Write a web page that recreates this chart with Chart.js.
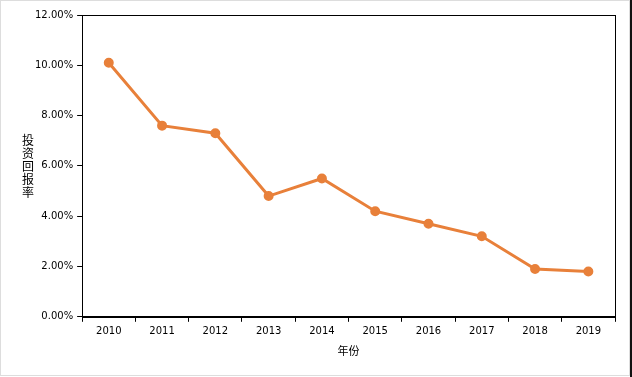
<!DOCTYPE html>
<html lang="zh">
<head>
    <meta charset="UTF-8">
    <title>投资回报率</title>
    <script src="https://cdn.jsdelivr.net/npm/chart.js"></script>
    <style>
        html, body { margin: 0; padding: 0; background: #fff; }
        .frame { position: relative; width: 632px; height: 377px; overflow: hidden; }
        .edge { position: absolute; left: 0; top: 0; width: 628px; height: 374px; border: 1px solid #ddd; pointer-events: none; }
        .strip { position: absolute; right: 0; top: 0; width: 2px; height: 377px; background: #111; }
        #chart { position: absolute; left: 0; top: 0; }
        #ytitle {
            position: absolute; left: 19px; top: 133px; width: 18px;
            font: 12px 'Noto Sans CJK SC', sans-serif; line-height: 13px;
            text-align: center; color: #000;
        }
    </style>
</head>
<body>
<div class="frame">
    <canvas id="chart" width="632" height="377"></canvas>
    <div id="ytitle"></div>
    <div class="edge"></div>
    <div class="strip"></div>
</div>

<script>
  // data
  const years = ["2010", "2011", "2012", "2013", "2014", "2015", "2016", "2017", "2018", "2019"];
  const returnRate = [10.1, 7.6, 7.3, 4.8, 5.5, 4.2, 3.7, 3.2, 1.9, 1.8];
  const yTitle = "投资回报率";
  const xTitle = "年份";

  const lineColor = "#E8803A";
  const tickFont = { family: "'DejaVu Sans', sans-serif", size: 10 };

  // upright, stacked y title (one character per line)
  document.getElementById("ytitle").innerHTML = Array.from(yTitle).join("<br>");

  // box around the plot area
  const framePlugin = {
    id: "framePlugin",
    afterDraw(chart) {
      const { ctx, chartArea: a } = chart;
      ctx.save();
      ctx.strokeStyle = "#000";
      ctx.lineWidth = 1;
      ctx.strokeRect(Math.round(a.left) + 0.5, Math.round(a.top) + 0.5,
                     Math.round(a.right - a.left), Math.round(a.bottom - a.top));
      ctx.restore();
    }
  };

  new Chart(document.getElementById("chart").getContext("2d"), {
    type: "line",
    data: {
      labels: years,
      datasets: [{
        data: returnRate,
        borderColor: lineColor,
        backgroundColor: lineColor,
        borderWidth: 3,
        pointRadius: 3.5,
        pointHoverRadius: 3.5,
        tension: 0
      }]
    },
    options: {
      responsive: false,
      animation: false,
      layout: { padding: { left: 31, top: 15, right: 17, bottom: 16 } },
      plugins: {
        legend: { display: false },
        tooltip: { enabled: false }
      },
      scales: {
        x: {
          offset: true,
          grid: { display: true, drawOnChartArea: false, offset: true, tickLength: 5, color: "#000" },
          border: { display: true, color: "#000" },
          ticks: { color: "#000", font: tickFont, padding: 4, maxRotation: 0 },
          title: { display: true, text: xTitle, color: "#000", font: { family: "'Noto Sans CJK SC', sans-serif", size: 11 }, padding: { top: 2 } }
        },
        y: {
          min: 0,
          max: 12,
          grid: { display: true, drawOnChartArea: false, tickLength: 5, color: "#000" },
          border: { display: true, color: "#000" },
          ticks: {
            stepSize: 2,
            color: "#000",
            font: tickFont,
            padding: 4,
            callback: v => v.toFixed(2) + "%"
          }
        }
      }
    },
    plugins: [framePlugin]
  });
</script>
</body>
</html>
